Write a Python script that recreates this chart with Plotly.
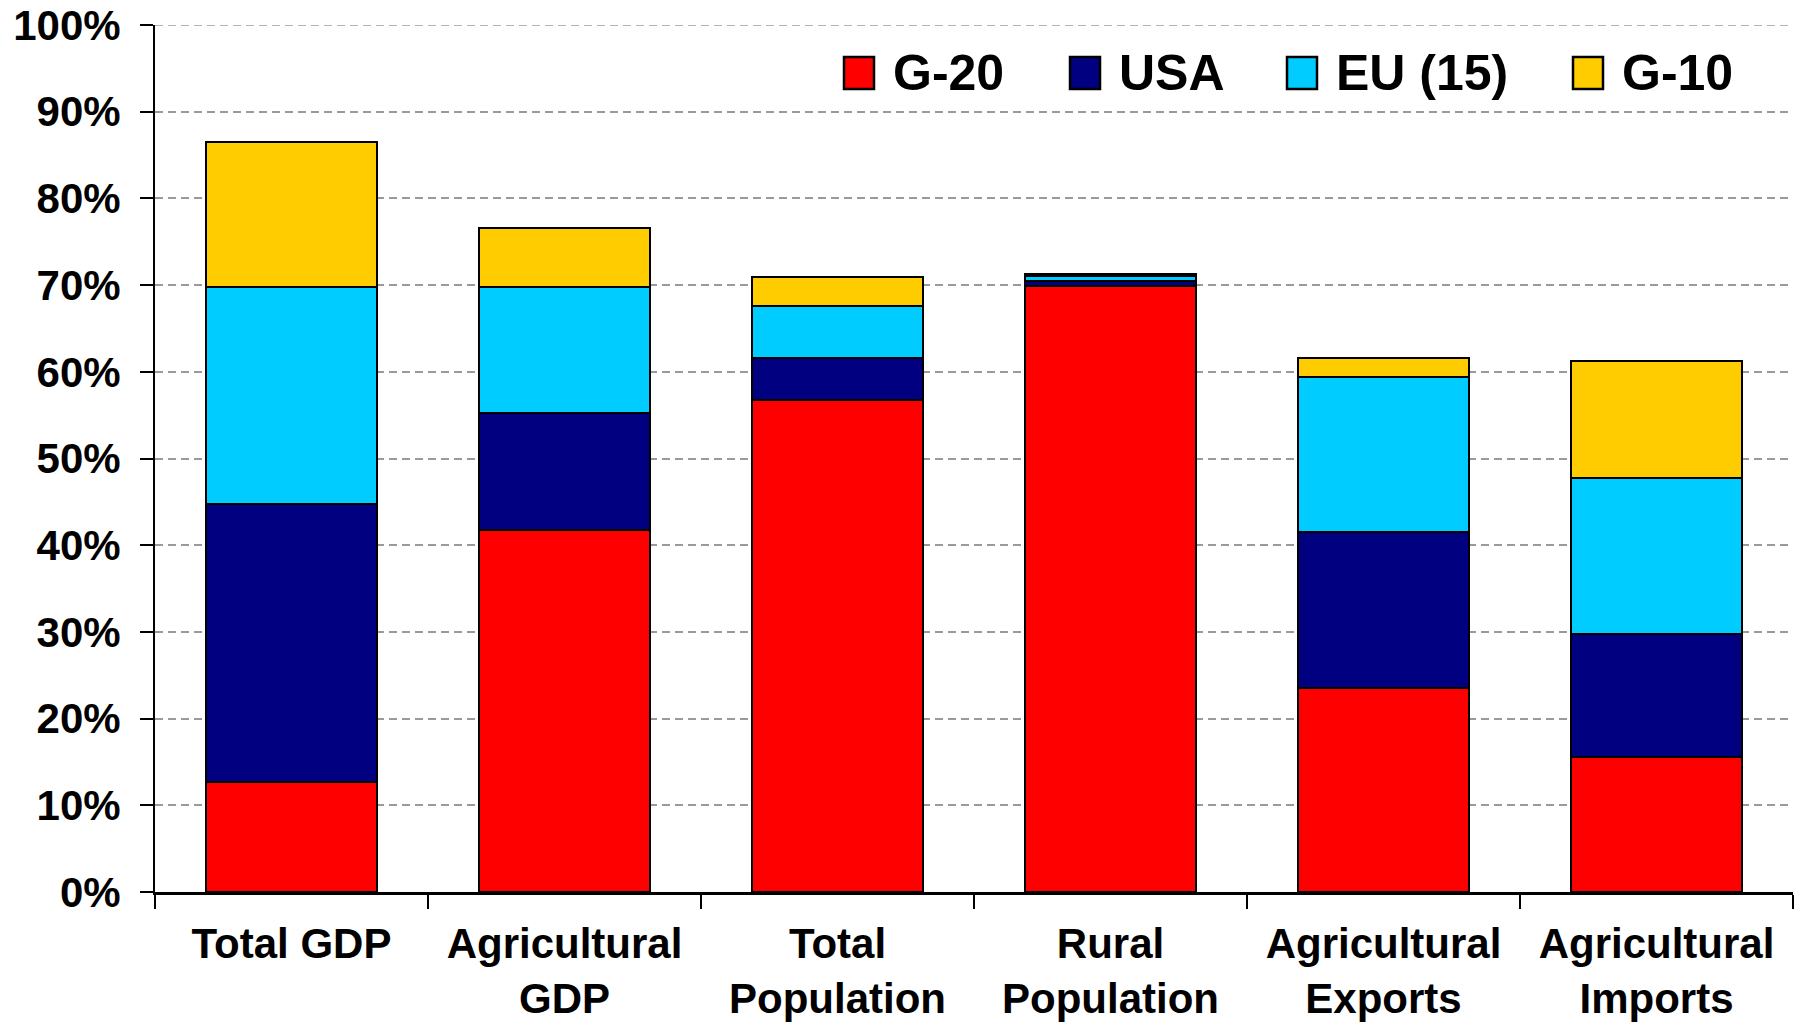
import plotly.graph_objects as go

categories = ["Total GDP", "Agricultural<br>GDP", "Total<br>Population",
              "Rural<br>Population", "Agricultural<br>Exports", "Agricultural<br>Imports"]
series_names = ["G-20", "USA", "EU (15)", "G-10"]
g20 = [12.7, 41.8, 56.7, 69.9, 23.5, 15.6]
usa = [32.1, 13.5, 4.9, 0.6, 18.0, 14.2]
eu15 = [25.0, 14.5, 6.0, 0.6, 17.9, 17.9]
g10 = [16.7, 6.8, 3.3, 0.2, 2.2, 13.6]
colors = ["#FF0000", "#000080", "#00CCFF", "#FFCC00"]
y_ticks = list(range(0, 101, 10))

W, H = 1797, 1030
ML, MT = 155, 25
PW, PH = 1638, 867
MR = W - ML - PW
MB = H - MT - PH

FONT = "Liberation Sans, Arial, sans-serif"
GRID = dict(color="#9a9a9a", width=1.5, dash="8px,5px")

fig = go.Figure()
for name, vals, col in zip(series_names, [g20, usa, eu15, g10], colors):
    fig.add_trace(go.Bar(x=categories, y=vals, name=name, marker_color=col,
                         marker_line=dict(color="black", width=2),
                         showlegend=False))

# manual legend (large square swatches like the original), positions in page pixels
legend_box_left = [844, 1070, 1287, 1573]
box_w, box_top, box_bot = 30, 57, 89
text_gap = 17
text_mid = 73


def px(xp):
    return (xp - ML) / PW


def py(yp):
    return (MT + PH - yp) / PH


# top gridline (plotly drops the grid line at the range end)
shapes = [dict(type="line", xref="paper", yref="y", x0=0, x1=1,
               y0=y_ticks[-1], y1=y_ticks[-1], line=GRID, layer="below")]
annotations = []
for name, col, bx in zip(series_names, colors, legend_box_left):
    shapes.append(dict(type="rect", xref="paper", yref="paper",
                       x0=px(bx), x1=px(bx + box_w), y0=py(box_bot), y1=py(box_top),
                       fillcolor=col, line=dict(color="black", width=2.5)))
    annotations.append(dict(xref="paper", yref="paper", x=px(bx + box_w + text_gap),
                            y=py(text_mid), xanchor="left", yanchor="middle",
                            text=name, showarrow=False,
                            font=dict(family=FONT, size=50, color="black", weight="bold")))

fig.update_layout(
    barmode="stack",
    bargap=0.375,
    width=W, height=H,
    margin=dict(l=ML, r=MR, t=MT, b=MB, pad=0, autoexpand=False),
    paper_bgcolor="white", plot_bgcolor="white",
    shapes=shapes, annotations=annotations,
    font=dict(family=FONT, color="black"),
)
fig.update_xaxes(
    showline=True, linecolor="black", linewidth=2.5,
    ticks="outside", tickson="boundaries", ticklen=14, tickwidth=2, tickcolor="black",
    showgrid=False, zeroline=False, automargin=False,
    tickfont=dict(family=FONT, size=42, color="black", weight="bold"),
    ticklabelstandoff=13,
)
fig.update_yaxes(
    range=[0, 100], tickvals=y_ticks, ticktext=[f"{v}%" for v in y_ticks],
    showline=True, linecolor="black", linewidth=2,
    ticks="outside", ticklen=13, tickwidth=2, tickcolor="black",
    showgrid=True, gridcolor=GRID["color"], gridwidth=GRID["width"], griddash=GRID["dash"],
    zeroline=False, automargin=False,
    tickfont=dict(family=FONT, size=42, color="black", weight="bold"),
    ticklabelstandoff=11,
    ticklabeloverflow="allow",
)

# remove the default 8px page margin so the figure fills the window exactly
fig.write_html("out.html",
               config={"displayModeBar": False},
               post_script="document.body.style.margin='0';document.body.style.padding='0';")
